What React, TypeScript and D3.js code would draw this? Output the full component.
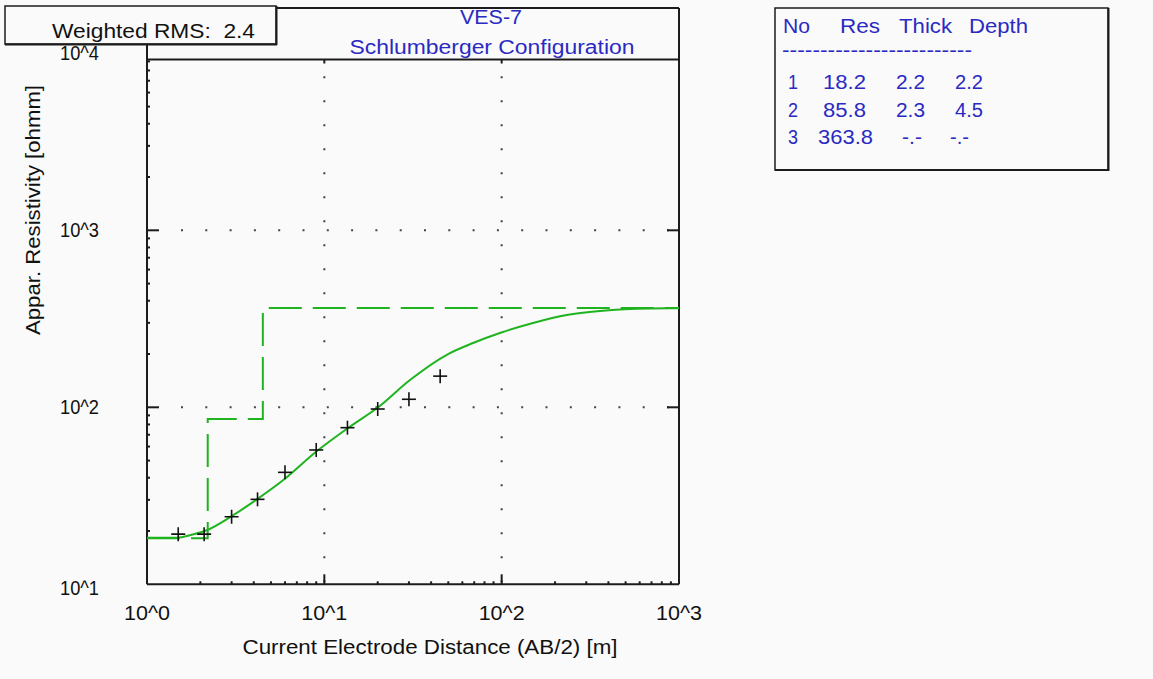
import React from "react";
import * as d3 from "d3";

// Measured data (AB/2 [m], apparent resistivity [ohmm])
const abHalf = [1.5, 2.1, 3, 4.2, 6, 9, 13.5, 20, 30, 45];
const rhoMeasured = [19.2, 19.2, 24.1, 30.2, 42.9, 57.4, 76.7, 97.8, 111, 150];

// Calculated model response curve
const curveX = [1, 1.47, 1.8, 2.17, 2.97, 4.15, 5.87, 8.98, 13.66, 20.1, 30.4, 49.9, 69, 99.6, 150.3, 232.9, 359, 687, 1000];
const curveY = [18.33, 18.33, 19.1, 20.2, 24.1, 30.1, 38.8, 56.1, 76.7, 100, 142.6, 200, 230.9, 264.6, 299.4, 332, 350, 362, 363];

// Layered model
const layerNo = ["1", "2", "3"];
const layerRes = [18.2, 85.8, 363.8];
const layerThick = [2.2, 2.3];
const layerDepth = [2.2, 4.5];

const xTickValues = [1, 10, 100, 1000];
const xTickLabels = ["10^0", "10^1", "10^2", "10^3"];
const yTickValues = [10, 100, 1000, 10000];
const yTickLabels = ["10^1", "10^2", "10^3", "10^4"];

const rmsValue = "2.4";
const titleLines = ["VES-7", "Schlumberger Configuration"];

const BG = "#fafafa";
const GREEN = "#1fb31f";
const BLUE = "#2a2ac2";
const AXIS = "#1c1c1c";
const FONT = "'Liberation Sans', Arial, sans-serif";

export default function App() {
  const left = 147, right = 679, bottom = 584.3, top = 53.3;
  const sepY = 59.5, frameTop = 8;
  const x = d3.scaleLog().domain([1, 1000]).range([left, right]);
  const y = d3.scaleLog().domain([10, 10000]).range([bottom, top]);

  const minorX: number[] = [];
  for (let d = 1; d < 1000; d *= 10) for (let k = 2; k <= 9; k++) minorX.push(d * k);
  const minorY: number[] = [];
  for (let d = 10; d < 10000; d *= 10) for (let k = 2; k <= 9; k++) minorY.push(d * k);

  const line = d3
    .line<[number, number]>()
    .x((d) => x(d[0]))
    .y((d) => y(d[1]))
    .curve(d3.curveMonotoneX);
  const curvePts: [number, number][] = curveX.map((v, i) => [v, curveY[i]]);

  // step model line
  const stepPts: [number, number][] = [];
  let prev = 1;
  layerRes.forEach((r, i) => {
    const end = i < layerDepth.length ? layerDepth[i] : 1000;
    stepPts.push([prev, r]);
    stepPts.push([end, r]);
    prev = end;
  });
  const stepLine = d3
    .line<[number, number]>()
    .x((d) => x(d[0]))
    .y((d) => y(d[1]));

  const fmt = (v: number) => v.toFixed(1);
  const tableRows = layerNo.map((n, i) => ({
    no: n,
    res: fmt(layerRes[i]),
    thick: i < layerThick.length ? fmt(layerThick[i]) : "-.-",
    depth: i < layerDepth.length ? fmt(layerDepth[i]) : "-.-",
  }));
  const rowBase = [88.5, 116.5, 144];
  const resX = [823, 823, 818];
  const resW = [43, 43, 55];

  return (
    <div>
      <style>{`body{margin:0;background:${BG};}`}</style>
      <svg width={1153} height={679} style={{ display: "block", background: BG }} fontFamily={FONT}>
        <defs>
          <clipPath id="plotClip">
            <rect x={left} y={sepY} width={right - left} height={bottom - sepY} />
          </clipPath>
        </defs>
        <rect x={0} y={0} width={1153} height={679} fill={BG} />

        {/* grid dots */}
        {xTickValues.slice(1, -1).map((v) => (
          <line key={"gx" + v} x1={x(v)} x2={x(v)} y1={bottom - 2} y2={sepY} stroke="#444" strokeWidth={2} strokeDasharray="2 22" />
        ))}
        {yTickValues.slice(1, -1).map((v) => (
          <line key={"gy" + v} y1={y(v)} y2={y(v)} x1={left + 34} x2={right} stroke="#444" strokeWidth={2} strokeDasharray="2 22.3" />
        ))}

        {/* frame */}
        <line x1={left} x2={left} y1={frameTop} y2={bottom} stroke={AXIS} strokeWidth={2} />
        <line x1={right} x2={right} y1={frameTop} y2={bottom} stroke={AXIS} strokeWidth={2} />
        <line x1={left} x2={right} y1={bottom} y2={bottom} stroke={AXIS} strokeWidth={2} />
        <line x1={left} x2={right} y1={frameTop} y2={frameTop} stroke={AXIS} strokeWidth={2} />
        <line x1={left} x2={right} y1={sepY} y2={sepY} stroke={AXIS} strokeWidth={2} />

        {/* x ticks */}
        {minorX.map((v) => (
          <line key={"mx" + v} x1={x(v)} x2={x(v)} y1={bottom} y2={bottom - 3} stroke={AXIS} strokeWidth={2} />
        ))}
        {xTickValues.slice(1, -1).map((v) => (
          <g key={"Mx" + v}>
            <line x1={x(v)} x2={x(v)} y1={bottom} y2={bottom - 10} stroke={AXIS} strokeWidth={2} />
            <line x1={x(v)} x2={x(v)} y1={sepY} y2={sepY + 4} stroke={AXIS} strokeWidth={2} />
          </g>
        ))}
        {/* y ticks */}
        {minorY.map((v) => (
          <line key={"my" + v} x1={left} x2={left + 3} y1={y(v)} y2={y(v)} stroke={AXIS} strokeWidth={2} />
        ))}
        {yTickValues.slice(1, -1).map((v) => (
          <g key={"My" + v}>
            <line x1={left} x2={left + 12} y1={y(v)} y2={y(v)} stroke={AXIS} strokeWidth={2} />
            <line x1={right - 12} x2={right} y1={y(v)} y2={y(v)} stroke={AXIS} strokeWidth={2} />
          </g>
        ))}

        {/* model & curve */}
        <g clipPath="url(#plotClip)">
          <path d={stepLine(stepPts) || ""} fill="none" stroke={GREEN} strokeWidth={2} strokeDasharray="33 11" />
          <path d={line(curvePts) || ""} fill="none" stroke={GREEN} strokeWidth={2} />
          {abHalf.map((v, i) => (
            <g key={"p" + i} stroke="#111" strokeWidth={1.6}>
              <line x1={x(v) - 7} x2={x(v) + 7} y1={y(rhoMeasured[i])} y2={y(rhoMeasured[i])} />
              <line x1={x(v)} x2={x(v)} y1={y(rhoMeasured[i]) - 7} y2={y(rhoMeasured[i]) + 7} />
            </g>
          ))}
        </g>

        {/* tick labels */}
        {xTickValues.map((v, i) => (
          <text key={"xl" + v} x={x(v)} y={620} textAnchor="middle" fontSize={20} fill="#111" textLength={46} lengthAdjust="spacingAndGlyphs">
            {xTickLabels[i]}
          </text>
        ))}
        {yTickValues.map((v, i) => (
          <text key={"yl" + v} x={99} y={y(v) + 7 + (i === 0 ? 4 : 0)} textAnchor="end" fontSize={20} fill="#111" textLength={39} lengthAdjust="spacingAndGlyphs">
            {yTickLabels[i]}
          </text>
        ))}

        {/* axis titles */}
        <text x={430} y={654} textAnchor="middle" fontSize={20} fill="#111" textLength={375} lengthAdjust="spacingAndGlyphs">
          Current Electrode Distance (AB/2) [m]
        </text>
        <text transform="translate(40,210) rotate(-90)" textAnchor="middle" fontSize={20} fill="#111" textLength={250} lengthAdjust="spacingAndGlyphs">
          Appar. Resistivity [ohmm]
        </text>

        {/* title */}
        <text x={491} y={24} textAnchor="middle" fontSize={20} fill={BLUE} textLength={62} lengthAdjust="spacingAndGlyphs">
          {titleLines[0]}
        </text>
        <text x={492} y={54} textAnchor="middle" fontSize={20} fill={BLUE} textLength={285} lengthAdjust="spacingAndGlyphs">
          {titleLines[1]}
        </text>

        {/* RMS box */}
        <rect x={5} y={6} width={271} height={38} fill={BG} stroke={AXIS} strokeWidth={1.5} />
        <line x1={5} x2={277} y1={44.5} y2={44.5} stroke={AXIS} strokeWidth={2} />
        <line x1={276.5} x2={276.5} y1={6} y2={45} stroke={AXIS} strokeWidth={2} />
        <text x={52} y={38} fontSize={20} fill="#111" textLength={203} lengthAdjust="spacingAndGlyphs" style={{ whiteSpace: "pre" }}>
          {"Weighted RMS:  " + rmsValue}
        </text>

        {/* layer table */}
        <rect x={775} y={8} width={333} height={162} fill={BG} stroke={AXIS} strokeWidth={1.5} />
        <line x1={775} x2={1109} y1={170} y2={170} stroke={AXIS} strokeWidth={2} />
        <line x1={1108.5} x2={1108.5} y1={8} y2={171} stroke={AXIS} strokeWidth={2} />
        <g fontSize={20} fill={BLUE}>
          <text x={783} y={32.5} textLength={27} lengthAdjust="spacingAndGlyphs">No</text>
          <text x={840} y={32.5} textLength={40} lengthAdjust="spacingAndGlyphs">Res</text>
          <text x={899} y={32.5} textLength={53} lengthAdjust="spacingAndGlyphs">Thick</text>
          <text x={969} y={32.5} textLength={59} lengthAdjust="spacingAndGlyphs">Depth</text>
          <text x={782} y={57} textLength={190} lengthAdjust="spacingAndGlyphs">-------------------------</text>
          {tableRows.map((r, i) => (
            <g key={"row" + i}>
              <text x={788} y={rowBase[i]} textLength={10} lengthAdjust="spacingAndGlyphs">{r.no}</text>
              <text x={resX[i]} y={rowBase[i]} textLength={resW[i]} lengthAdjust="spacingAndGlyphs">{r.res}</text>
              {r.thick === "-.-" ? (
                <text x={902} y={rowBase[i]} textLength={20} lengthAdjust="spacingAndGlyphs">{r.thick}</text>
              ) : (
                <text x={896} y={rowBase[i]} textLength={29} lengthAdjust="spacingAndGlyphs">{r.thick}</text>
              )}
              {r.depth === "-.-" ? (
                <text x={950} y={rowBase[i]} textLength={19} lengthAdjust="spacingAndGlyphs">{r.depth}</text>
              ) : (
                <text x={955} y={rowBase[i]} textLength={28} lengthAdjust="spacingAndGlyphs">{r.depth}</text>
              )}
            </g>
          ))}
        </g>
      </svg>
    </div>
  );
}
